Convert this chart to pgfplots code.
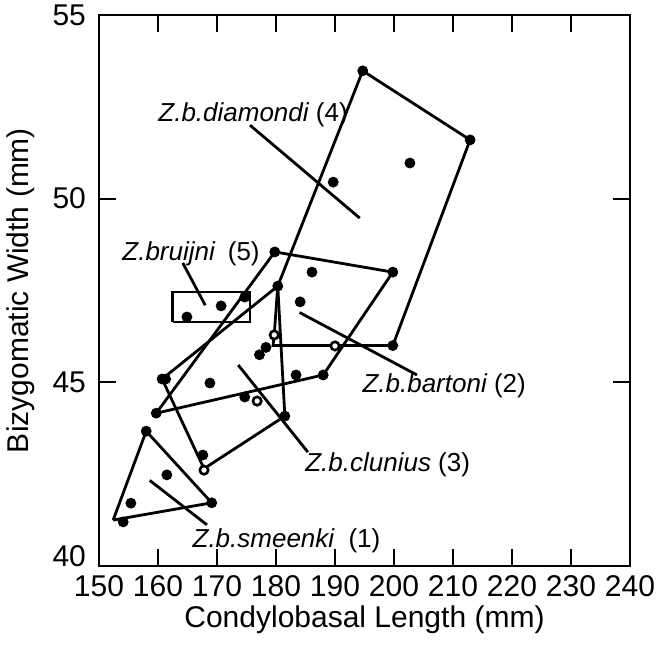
\documentclass[border=0pt]{standalone}
\usepackage{fontspec}
\setmainfont{Liberation Sans}
\usepackage{pgfplots}
\pgfplotsset{compat=1.18}
\begin{document}
\begin{tikzpicture}
\path[use as bounding box] (-49.5pt,-43pt) rectangle (281pt,283pt);
\begin{axis}[
    scale only axis,
    width=265.5pt, height=275.5pt,
    xmin=150, xmax=240, ymin=40, ymax=55,
    xtick={150,160,...,240}, ytick={45,50,55},
    extra y ticks={40},
    extra y tick style={yticklabel style={yshift=5pt}},
    tick align=inside, major tick length=8.5pt,
    tick style={black, line width=1pt},
    axis line style={line width=1pt},
    xlabel={Condylobasal Length (mm)},
    ylabel={Bizygomatic Width (mm)},
    xlabel style={at={([yshift=-31pt]axis description cs:0.5,0)}, anchor=base},
    ylabel style={at={([xshift=-35pt]axis description cs:0,0.5)}, anchor=base},
    ticklabel style={font=\fontsize{15}{17}\selectfont},
    xticklabel style={yshift=-1pt},
    yticklabel style={xshift=-3pt},
    label style={font=\fontsize{15}{18}\selectfont},
    /pgf/number format/assume math mode=true,
    clip=false,
]
% polygons (envelopes)
\addplot[black, line width=1.4pt] coordinates {% smeenki
    (152.4,41.25) (158.0,43.67) (169.1,41.72) (152.4,41.25)};
\addplot[black, line width=1.4pt] coordinates {% clunius
    (180.3,47.62) (160.7,45.09) (167.8,42.65) (181.5,44.08) (180.3,47.62)};
\addplot[black, line width=1.4pt] coordinates {% bartoni
    (159.7,44.16) (179.8,48.55) (199.8,48.0) (188.0,45.2) (159.7,44.16)};
\addplot[black, line width=1.4pt] coordinates {% diamondi
    (194.7,53.48) (212.9,51.6) (199.8,46.0) (179.5,46.0) (179.7,46.29) (180.3,47.62) (194.7,53.48)};
\addplot[black, line width=1.4pt] coordinates {% bruijni
    (162.5,46.64) (175.6,46.64) (175.6,47.46) (162.5,47.46) (162.5,46.64)};
% leader lines
\addplot[black, line width=1.4pt] coordinates {(175.6,52.0) (194.2,49.47)};
\addplot[black, line width=1.4pt] coordinates {(164.2,48.25) (168.0,47.1)};
\addplot[black, line width=1.4pt] coordinates {(184.0,46.9) (203.9,45.2)};
\addplot[black, line width=1.4pt] coordinates {(173.6,45.47) (185.4,43.1)};
\addplot[black, line width=1.4pt] coordinates {(158.6,42.33) (168.3,41.12)};
% filled specimens
\addplot[only marks, mark=*, mark size=2.5pt, black] coordinates {
    (194.7,53.48) (212.9,51.6) (202.7,50.97) (189.7,50.45)
    (199.8,46.0) (199.8,48.0) (186.1,48.0) (184.1,47.19)
    (188.0,45.2) (183.4,45.2) (179.8,48.55) (180.3,47.62)
    (178.3,45.95) (177.2,45.75)
    (174.7,47.32) (170.7,47.08) (164.9,46.78)
    (160.7,45.09) (161.3,45.09) (168.8,44.98) (174.7,44.6)
    (159.7,44.16) (181.5,44.08) (158.0,43.67) (167.6,43.02)
    (161.5,42.48) (169.1,41.72) (155.4,41.71) (154.1,41.2)
};
% open specimens
\addplot[only marks, mark=*, mark size=2.1pt, mark options={fill=white, draw=black, line width=1.3pt}] coordinates {
    (190.0,45.99) (179.7,46.29) (176.8,44.49) (167.8,42.61)
};
\tikzset{lab/.style={anchor=base west, inner sep=0pt, font=\fontsize{13}{15}\selectfont\itshape}}
\node[lab] at (axis cs:160.0,52.09) {Z.b.diamondi \upshape(4)};
\node[lab] at (axis cs:153.9,48.33) {Z.bruijni\hspace{0.5em}\upshape(5)};
\node[lab] at (axis cs:194.6,44.71) {Z.b.bartoni \upshape(2)};
\node[lab] at (axis cs:184.9,42.56) {Z.b.clunius \upshape(3)};
\node[lab] at (axis cs:165.8,40.49) {Z.b.smeenki\hspace{0.55em}\upshape(1)};
\end{axis}
\end{tikzpicture}
\end{document}
